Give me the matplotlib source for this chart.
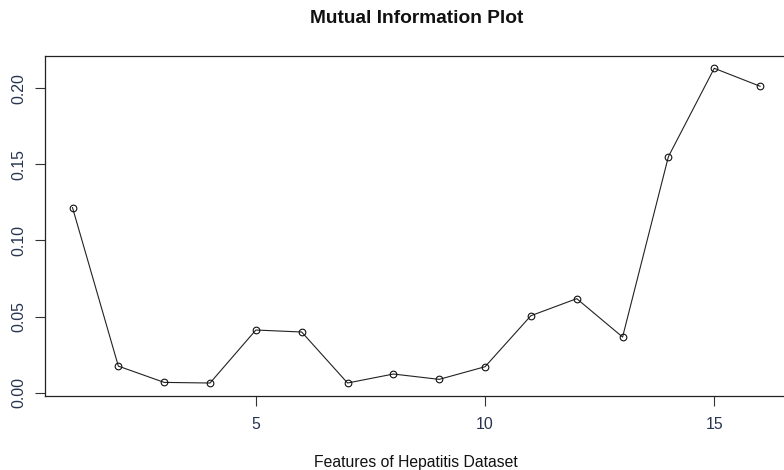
import matplotlib
matplotlib.use("Agg")
import matplotlib.pyplot as plt
import numpy as np

plt.rcParams['font.family'] = ['Liberation Sans', 'DejaVu Sans']

features = list(range(1, 17))
mutual_info = [0.1216, 0.0175, 0.0068, 0.0064, 0.0412, 0.0399, 0.0064, 0.0123,
               0.0088, 0.0171, 0.0506, 0.0618, 0.0366, 0.1551, 0.2131, 0.2013]
x_ticks = [5, 10, 15]
y_ticks = [0.00, 0.05, 0.10, 0.15, 0.20]
y_ticklabels = ["0.00", "0.05", "0.10", "0.15", "0.20"]
title = "Mutual Information Plot"
xlabel = "Features of Hepatitis Dataset"

W, H = 784, 470
fig = plt.figure(figsize=(W / 100, H / 100), dpi=100)

# axes box in pixels (right edge extends beyond the image, as in the reference)
left_px, right_px, top_px, bottom_px = 45, 787.6, 55.7, 395.6
ax = fig.add_axes([left_px / W, 1 - bottom_px / H,
                   (right_px - left_px) / W, (bottom_px - top_px) / H])

ax.plot(features, mutual_info, color='#222222', lw=0.8,
        marker='o', markersize=4.8, markerfacecolor='none',
        markeredgecolor='#111111', markeredgewidth=0.8)

# R-style 4% range extension
xr = max(features) - min(features)
ax.set_xlim(min(features) - 0.04 * xr, max(features) + 0.04 * xr)
yr = max(mutual_info) - min(mutual_info)
ax.set_ylim(min(mutual_info) - 0.04 * yr, max(mutual_info) + 0.04 * yr)

ax.set_xticks(x_ticks)
ax.set_yticks(y_ticks)
ax.set_yticklabels(y_ticklabels, rotation=90, va='center')
tick_color = '#263450'
ax.tick_params(axis='both', direction='out', length=7.5, width=0.8,
               labelsize=11.4, labelcolor=tick_color, color='#333333')
ax.tick_params(axis='x', pad=8)
ax.tick_params(axis='y', pad=6.2)
for sp in ax.spines.values():
    sp.set_linewidth(0.9)
    sp.set_color('#222222')

fig.text((left_px + right_px) / 2 / W, 1 - 18.5 / H, title,
         ha='center', va='center', fontsize=13.8, fontweight='bold', color='#111111')
fig.text((left_px + right_px) / 2 / W, 1 - 462 / H, xlabel,
         ha='center', va='center', fontsize=11.3, color='#111111')

fig.savefig("out.png", dpi=100)
